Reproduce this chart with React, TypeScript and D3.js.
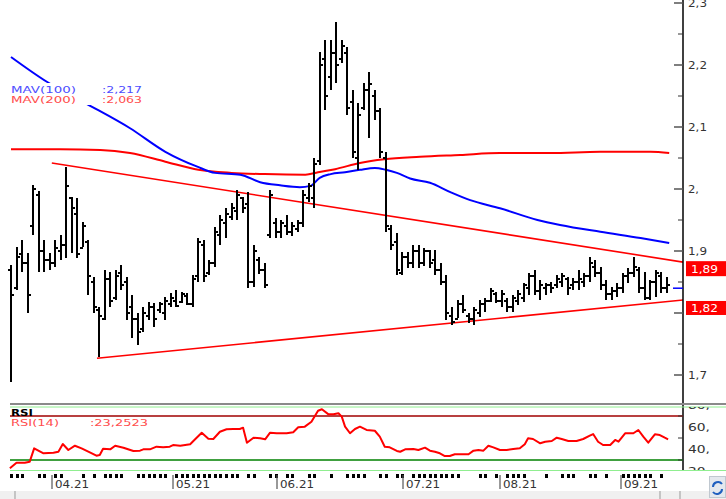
import React from 'react';
import * as d3 from 'd3';

// ---------- DATA ----------
const highs = [
  1.877, 1.906, 1.918, 1.897, 2.007, 1.997, 1.918, 1.897, 1.918, 1.926,
  2.036, 1.987, 1.985, 1.947, 1.918, 1.858, 1.810, 1.869, 1.866, 1.869,
  1.877, 1.858, 1.829, 1.800, 1.810, 1.818, 1.816, 1.818, 1.826, 1.832,
  1.837, 1.834, 1.832, 1.861, 1.921, 1.918, 1.885, 1.939, 1.958, 1.969,
  1.977, 1.998, 1.987, 1.995, 1.910, 1.890, 1.881, 1.998, 1.953, 1.950,
  1.958, 1.947, 1.950, 1.998, 2.010, 2.050, 2.221, 2.240, 2.240, 2.269,
  2.240, 2.229, 2.160, 2.139, 2.171, 2.189, 2.160, 2.131, 2.060, 1.942,
  1.929, 1.898, 1.898, 1.910, 1.910, 1.905, 1.902, 1.902, 1.881, 1.861,
  1.810, 1.821, 1.829, 1.800, 1.810, 1.821, 1.824, 1.840, 1.834, 1.837,
  1.824, 1.829, 1.837, 1.848, 1.865, 1.869, 1.853, 1.848, 1.850, 1.861,
  1.865, 1.858, 1.857, 1.869, 1.865, 1.890, 1.885, 1.874, 1.853, 1.842,
  1.848, 1.865, 1.873, 1.890, 1.874, 1.866, 1.853, 1.869, 1.866, 1.858,
];
const lows = [
  1.689, 1.837, 1.866, 1.800, 1.926, 1.866, 1.866, 1.869, 1.874, 1.885,
  1.889, 1.897, 1.889, 1.906, 1.829, 1.800, 1.729, 1.789, 1.810, 1.821,
  1.837, 1.789, 1.760, 1.748, 1.769, 1.789, 1.778, 1.800, 1.789, 1.810,
  1.810, 1.816, 1.813, 1.810, 1.850, 1.850, 1.861, 1.874, 1.910, 1.921,
  1.950, 1.950, 1.961, 1.840, 1.842, 1.863, 1.840, 1.921, 1.921, 1.921,
  1.926, 1.924, 1.931, 1.939, 1.979, 1.969, 2.039, 2.127, 2.160, 2.171,
  2.203, 2.119, 2.050, 2.031, 2.127, 2.082, 2.111, 2.050, 1.931, 1.902,
  1.861, 1.861, 1.873, 1.873, 1.873, 1.876, 1.873, 1.861, 1.845, 1.789,
  1.781, 1.792, 1.800, 1.784, 1.781, 1.794, 1.802, 1.818, 1.816, 1.810,
  1.802, 1.802, 1.813, 1.818, 1.829, 1.829, 1.821, 1.829, 1.832, 1.840,
  1.842, 1.829, 1.837, 1.837, 1.842, 1.850, 1.858, 1.837, 1.821, 1.821,
  1.826, 1.832, 1.848, 1.858, 1.832, 1.821, 1.821, 1.826, 1.832, 1.832,
];
const opens = [
  1.870, 1.840, 1.895, 1.880, 1.940, 1.990, 1.900, 1.885, 1.880, 1.900,
  1.910, 1.985, 1.960, 1.905, 1.915, 1.850, 1.805, 1.790, 1.855, 1.825,
  1.865, 1.850, 1.810, 1.790, 1.775, 1.795, 1.810, 1.805, 1.800, 1.815,
  1.820, 1.818, 1.828, 1.815, 1.860, 1.910, 1.865, 1.880, 1.925, 1.945,
  1.955, 1.965, 1.985, 1.975, 1.850, 1.885, 1.870, 1.925, 1.945, 1.930,
  1.940, 1.930, 1.935, 1.945, 1.985, 1.985, 2.045, 2.210, 2.180, 2.220,
  2.210, 2.220, 2.140, 2.050, 2.130, 2.160, 2.150, 2.125, 2.050, 1.935,
  1.915, 1.865, 1.890, 1.880, 1.900, 1.880, 1.900, 1.885, 1.870, 1.850,
  1.795, 1.790, 1.815, 1.795, 1.790, 1.800, 1.815, 1.820, 1.830, 1.820,
  1.820, 1.810, 1.820, 1.825, 1.840, 1.860, 1.835, 1.840, 1.845, 1.845,
  1.850, 1.855, 1.845, 1.850, 1.850, 1.860, 1.875, 1.865, 1.845, 1.830,
  1.835, 1.840, 1.860, 1.865, 1.870, 1.840, 1.825, 1.850, 1.860, 1.840,
];
const closes = [
  1.829, 1.890, 1.880, 1.829, 2.000, 1.900, 1.885, 1.880, 1.905, 1.910,
  2.005, 1.970, 1.895, 1.940, 1.860, 1.810, 1.795, 1.855, 1.820, 1.860,
  1.845, 1.800, 1.790, 1.770, 1.800, 1.810, 1.790, 1.815, 1.820, 1.825,
  1.812, 1.830, 1.815, 1.855, 1.915, 1.860, 1.880, 1.930, 1.950, 1.960,
  1.970, 1.990, 1.970, 1.850, 1.900, 1.870, 1.845, 1.990, 1.930, 1.945,
  1.930, 1.940, 1.945, 1.990, 2.005, 2.040, 2.200, 2.150, 2.220, 2.200,
  2.230, 2.130, 2.060, 2.120, 2.160, 2.170, 2.125, 2.060, 1.940, 1.910,
  1.870, 1.890, 1.880, 1.900, 1.880, 1.900, 1.880, 1.870, 1.850, 1.800,
  1.785, 1.815, 1.805, 1.790, 1.805, 1.815, 1.820, 1.835, 1.820, 1.830,
  1.810, 1.825, 1.830, 1.845, 1.860, 1.835, 1.845, 1.845, 1.840, 1.855,
  1.860, 1.840, 1.850, 1.855, 1.860, 1.880, 1.865, 1.845, 1.830, 1.835,
  1.840, 1.860, 1.865, 1.875, 1.840, 1.825, 1.850, 1.865, 1.840, 1.845,
];

const mav100Idx = [0, 6.5, 13.4, 21.6, 28, 33.8, 37, 41.6, 45.2, 48.8, 52.4, 54.3, 56, 58, 60.6, 63.3, 66, 68, 70, 72.4, 76, 79.7, 83.3, 88.7, 95.5, 99.6, 106.9, 114.2, 119.4];
const mav100Val = [2.213, 2.173, 2.139, 2.098, 2.060, 2.036, 2.026, 2.023, 2.011, 2.006, 2.003, 2.005, 2.018, 2.024, 2.027, 2.031, 2.034, 2.031, 2.026, 2.017, 2.010, 1.995, 1.982, 1.969, 1.950, 1.942, 1.931, 1.921, 1.913];
const mav200Idx = [0, 8.9, 16.2, 21.6, 28, 34, 40, 46, 53.4, 55.7, 58.8, 63.3, 67.7, 74.2, 81.5, 88.7, 97.8, 106.9, 116, 119.4];
const mav200Val = [2.064, 2.064, 2.063, 2.058, 2.044, 2.031, 2.026, 2.024, 2.023, 2.027, 2.032, 2.042, 2.048, 2.052, 2.055, 2.058, 2.058, 2.060, 2.060, 2.058];

const upperTrendIdx = [7.4, 122];
const upperTrendVal = [2.042, 1.882];
const lowerTrendIdx = [15.6, 122];
const lowerTrendVal = [1.727, 1.821];

const rsiIdx = [
  -0.2, 1.0, 2.5, 3.4, 4.2, 5.9, 7.7, 8.6, 9.4, 10.4, 11.6, 12.8, 14.3, 15.5, 16.1, 16.7, 18.0, 18.9, 20.4, 22.2,
  23.4, 24.0, 25.2, 26.4, 27.6, 28.8, 29.4, 30.7, 32.5, 33.4, 34.6, 35.8, 36.7, 37.9, 39.1, 40.3, 41.5, 42.1, 42.8, 44.0,
  45.2, 46.1, 47.0, 48.2, 50.0, 51.2, 52.1, 53.3, 54.5, 55.7, 56.4, 57.6, 58.5, 59.4, 60.0, 60.6, 61.5, 62.4, 63.3, 64.5,
  66.0, 66.9, 67.8, 68.7, 70.0, 70.6, 71.5, 73.0, 73.9, 75.1, 76.0, 76.9, 77.8, 78.7, 79.6, 80.5, 81.4, 83.0, 83.9, 84.8,
  85.7, 86.6, 87.5, 88.7, 89.9, 91.1, 92.3, 93.2, 93.8, 94.7, 96.0, 96.9, 98.1, 99.0, 99.9, 101.1, 102.6, 103.8, 105.0, 105.6,
  106.5, 107.4, 108.7, 109.6, 110.2, 111.4, 112.9, 113.8, 114.7, 115.6, 116.8, 117.7, 118.6, 119.2,
];
const rsiVal = [
  22.5, 27.5, 27.5, 28.5, 40.6, 36.1, 36.6, 37.5, 44.5, 39.1, 43.0, 40.6, 37.0, 33.9, 34.5, 40.3, 39.7, 43.0, 41.2, 38.2,
  38.5, 39.7, 39.7, 42.1, 41.5, 42.1, 43.6, 43.0, 44.3, 48.8, 54.8, 49.4, 49.1, 55.7, 57.9, 58.2, 58.2, 59.4, 45.7, 50.3,
  49.7, 48.8, 54.8, 54.3, 54.3, 55.2, 59.7, 60.3, 64.8, 74.8, 76.1, 71.5, 71.5, 72.5, 69.4, 60.3, 54.3, 58.2, 60.3, 57.3,
  56.6, 51.2, 42.1, 41.5, 38.2, 37.5, 39.7, 40.0, 39.1, 41.2, 38.5, 37.5, 36.1, 33.6, 33.6, 35.2, 35.2, 35.2, 38.5, 39.1,
  38.5, 43.0, 41.5, 39.1, 39.1, 40.0, 40.6, 44.3, 49.7, 49.1, 45.2, 46.6, 47.3, 50.3, 49.1, 47.3, 47.3, 49.1, 52.1, 53.6,
  46.6, 43.6, 43.6, 48.2, 46.6, 54.3, 54.3, 57.3, 51.2, 45.7, 53.4, 52.7, 50.3, 48.8,
];

const dayMarks = [0, 1, 2, 5, 6, 8, 9, 13, 15, 17, 18, 19, 20, 23, 24, 25, 26, 27, 28, 30, 31, 32, 33, 34, 35, 36, 37, 38, 39, 40, 41, 43, 44, 47, 48, 50, 51, 54, 55, 58, 61, 62, 63, 64, 67, 68, 70, 71, 73, 74, 75, 76, 77, 78, 79, 80, 81, 85, 86, 88, 90, 91, 92, 93, 97, 100, 101, 102, 105, 106, 108, 111, 112, 113, 114, 115, 116, 118];

const monthLabels = ['04.21', '05.21', '06.21', '07.21', '08.21', '09.21'];
const monthIdx = [7.4, 29.3, 48.2, 71.2, 88.7, 110.6];

// the 1,8 label sits under the 1,82 box in the reference, so it is not shown
const priceTicks = [2.3, 2.2, 2.1, 2.0, 1.9, 1.8, 1.7];
const priceTickLabels = ['2,3', '2,2', '2,1', '2,', '1,9', '', '1,7'];
const priceMinorTicks = [2.25, 2.15, 2.05, 1.95, 1.85, 1.75];
const rsiTicks = [80, 60, 40, 20];
const rsiTickLabels = ['80,', '60,', '40,', '20,'];
const rsiMinorTicks = [70, 50, 30];

const lastPrice = 1.840;
const upperLabel = '1,89';
const lowerLabel = '1,82';
const legendMav100 = ['MAV(100)', ':2,217'];
const legendMav200 = ['MAV(200)', ':2,063'];
const legendRsi = ['RSI(14)', ':23,2523'];
const rsiUpper = 70;
const rsiLower = 30;

const FONT = '"DejaVu Sans", Verdana, sans-serif';

export default function App() {
  const W = 726;
  const H = 499;
  const axisX = 683;
  const x = d3.scaleLinear().domain([0, 119]).range([11, 667]);
  const y = d3.scaleLinear().domain([1.7, 2.3]).range([375, 3]);
  const yr = d3.scaleLinear().domain([40, 60]).range([449, 427]);

  const priceLine = d3
    .line<[number, number]>()
    .x((d) => x(d[0]))
    .y((d) => y(d[1]))
    .curve(d3.curveMonotoneX);
  const straight = d3
    .line<[number, number]>()
    .x((d) => x(d[0]))
    .y((d) => y(d[1]));
  const rsiLine = d3
    .line<[number, number]>()
    .x((d) => x(d[0]))
    .y((d) => yr(d[1]));

  const mav100 = d3.zip(mav100Idx, mav100Val) as [number, number][];
  const mav200 = d3.zip(mav200Idx, mav200Val) as [number, number][];
  const up = d3.zip(upperTrendIdx, upperTrendVal) as [number, number][];
  const lo = d3.zip(lowerTrendIdx, lowerTrendVal) as [number, number][];
  const rsi = d3.zip(rsiIdx, rsiVal) as [number, number][];

  const upEndY = y(upperTrendVal[1]);
  const loEndY = y(lowerTrendVal[1]);

  return (
    <svg
      width={W}
      height={H}
      viewBox={`0 0 ${W} ${H}`}
      style={{ position: 'absolute', left: 0, top: 0, display: 'block', background: '#fff' }}
      fontFamily={FONT}
    >
      <defs>
        <clipPath id="mainClip">
          <rect x={0} y={0} width={axisX} height={400} />
        </clipPath>
        <clipPath id="rsiAxisClip">
          <rect x={axisX} y={407} width={W - axisX} height={63} />
        </clipPath>
      </defs>
      <rect x={0} y={0} width={W} height={H} fill="#fff" />

      {/* bottom scroll strip */}
      <rect x={0} y={491} width={W} height={8} fill="#f0f0f0" />
      <line x1={15} x2={15} y1={491} y2={499} stroke="#999" />
      <line x1={660} x2={660} y1={491} y2={499} stroke="#999" />
      <line x1={680} x2={680} y1={491} y2={499} stroke="#999" />

      {/* main panel */}
      <g clipPath="url(#mainClip)">
        <path d={priceLine(mav200) || ''} fill="none" stroke="#ff0000" strokeWidth={2} />
        <path d={priceLine(mav100) || ''} fill="none" stroke="#0000ff" strokeWidth={2} />
        <path d={straight(up) || ''} fill="none" stroke="#ff0000" strokeWidth={1.6} />
        <path d={straight(lo) || ''} fill="none" stroke="#ff0000" strokeWidth={1.6} />
        <g stroke="#000" shapeRendering="crispEdges">
          {highs.map((h, i) => {
            const cx = Math.round(x(i));
            const oy = Math.round(y(opens[i]));
            const cy = Math.round(y(closes[i]));
            return (
              <g key={i}>
                <line x1={cx} x2={cx} y1={y(h)} y2={y(lows[i])} strokeWidth={2} />
                <line x1={cx - 3} x2={cx} y1={oy} y2={oy} strokeWidth={2} />
                <line x1={cx} x2={cx + 3} y1={cy} y2={cy} strokeWidth={2} />
              </g>
            );
          })}
        </g>
      </g>

      {/* legend */}
      <rect x={8} y={83} width={140} height={22} fill="#fff" />
      <text x={11} y={93} fontSize={8.5} fill="#4d4dff" textLength={65} lengthAdjust="spacingAndGlyphs">{legendMav100[0]}</text>
      <text x={102} y={93} fontSize={8.5} fill="#4d4dff" textLength={40} lengthAdjust="spacingAndGlyphs">{legendMav100[1]}</text>
      <text x={11} y={103} fontSize={8.5} fill="#ff4d4d" textLength={65} lengthAdjust="spacingAndGlyphs">{legendMav200[0]}</text>
      <text x={102} y={103} fontSize={8.5} fill="#ff4d4d" textLength={40} lengthAdjust="spacingAndGlyphs">{legendMav200[1]}</text>

      {/* right price axis */}
      <line x1={axisX} x2={axisX} y1={0} y2={471} stroke="#000" strokeWidth={1.5} />
      {priceTicks.map((t, i) => (
        <g key={'pt' + i}>
          <line x1={axisX - 9} x2={axisX} y1={y(t)} y2={y(t)} stroke="#555" strokeWidth={1.5} />
          {priceTickLabels[i] && (
            <text x={688} y={y(t) + 4} fontSize={10} fill="#333" textLength={priceTickLabels[i].length === 2 ? 11 : 19} lengthAdjust="spacingAndGlyphs">
              {priceTickLabels[i]}
            </text>
          )}
        </g>
      ))}
      {priceMinorTicks.map((t, i) => (
        <line key={'pm' + i} x1={axisX - 5} x2={axisX} y1={y(t)} y2={y(t)} stroke="#333" strokeWidth={1} />
      ))}
      <line x1={axisX - 10} x2={axisX} y1={y(lastPrice)} y2={y(lastPrice)} stroke="#0000ff" strokeWidth={1.5} />
      <rect x={686} y={upEndY - 1} width={40} height={15} fill="#ff0000" />
      <text x={691} y={upEndY + 10.5} fontSize={10} fill="#fff" textLength={27} lengthAdjust="spacingAndGlyphs">{upperLabel}</text>
      <rect x={686} y={loEndY + 1} width={40} height={14} fill="#ff0000" />
      <text x={691} y={loEndY + 12} fontSize={10} fill="#fff" textLength={27} lengthAdjust="spacingAndGlyphs">{lowerLabel}</text>

      {/* panel separator */}
      <line x1={10} x2={W} y1={404} y2={404} stroke="#8a8a8a" strokeWidth={2} />
      <line x1={10} x2={W} y1={407} y2={407} stroke="#90ee90" strokeWidth={1} />
      <line x1={10} x2={W} y1={470.5} y2={470.5} stroke="#90ee90" strokeWidth={1} />

      {/* RSI panel */}
      <line x1={10} x2={axisX} y1={yr(rsiUpper)} y2={yr(rsiUpper)} stroke="#a00000" strokeWidth={1.6} />
      <line x1={10} x2={axisX} y1={yr(rsiLower)} y2={yr(rsiLower)} stroke="#008000" strokeWidth={1.6} />
      <path d={rsiLine(rsi) || ''} fill="none" stroke="#ff0000" strokeWidth={2} strokeLinejoin="round" />
      <text x={11} y={415.5} fontSize={8.5} fontWeight="bold" fill="#000" textLength={22} lengthAdjust="spacingAndGlyphs">RSI</text>
      <text x={11} y={426} fontSize={8.5} fill="#ff4d4d" textLength={48} lengthAdjust="spacingAndGlyphs">{legendRsi[0]}</text>
      <text x={90} y={426} fontSize={8.5} fill="#ff4d4d" textLength={58} lengthAdjust="spacingAndGlyphs">{legendRsi[1]}</text>
      <g clipPath="url(#rsiAxisClip)">
        {rsiTicks.map((t, i) => (
          <g key={'rt' + i}>
            <line x1={axisX - 9} x2={axisX} y1={yr(t)} y2={yr(t)} stroke="#333" strokeWidth={1.2} />
            <text x={688} y={yr(t) + 4} fontSize={10} fill="#333" textLength={22} lengthAdjust="spacingAndGlyphs">{rsiTickLabels[i]}</text>
          </g>
        ))}
      </g>
      {rsiMinorTicks.map((t, i) => (
        <line key={'rm' + i} x1={axisX - 5} x2={axisX} y1={yr(t)} y2={yr(t)} stroke="#333" strokeWidth={1} />
      ))}

      {/* date axis */}
      {dayMarks.map((d, i) => (
        <rect key={'dm' + i} x={Math.round(x(d)) - 1} y={474} width={3} height={4} fill="#000" />
      ))}
      {monthLabels.map((m, i) => {
        const mx = Math.round(x(monthIdx[i]));
        return (
          <g key={'ml' + i}>
            <line x1={mx} x2={mx} y1={475} y2={489} stroke="#555" strokeWidth={1.2} />
            <text x={mx + 3} y={488} fontSize={10.5} fill="#333" textLength={34} lengthAdjust="spacingAndGlyphs">{m}</text>
          </g>
        );
      })}

      {/* refresh button */}
      <rect x={709.5} y={476.5} width={16} height={21} fill="#e4e8ee" stroke="#c0c8d0" />
      <path d="M713,487 a5,5 0 0 1 9,-3 M722,489 a5,5 0 0 1 -9,3" fill="none" stroke="#1f5fbf" strokeWidth={2} />
    </svg>
  );
}
